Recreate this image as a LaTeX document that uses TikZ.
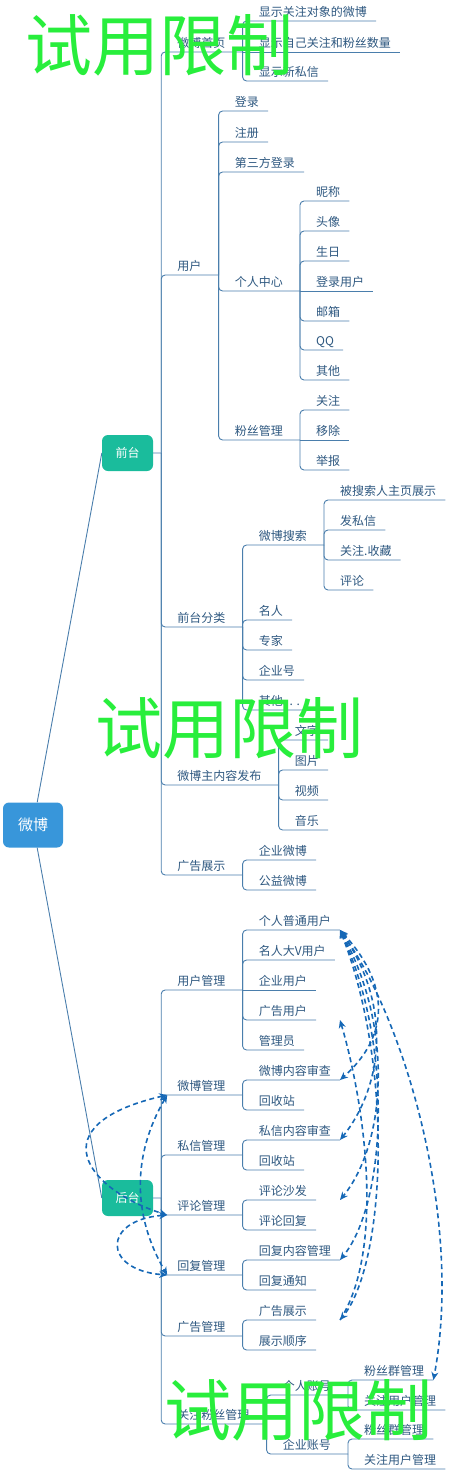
\documentclass[tikz,border=0pt]{standalone}
\usepackage{fontspec}
\newfontfamily\cjk{Noto Sans CJK SC}
\usetikzlibrary{positioning, arrows.meta}
\definecolor{azulraiz}{RGB}{56,150,218}
\definecolor{verdefase}{RGB}{26,188,156}
\definecolor{linea}{RGB}{74,126,172}
\definecolor{texto}{RGB}{46,88,128}
\definecolor{flecha}{RGB}{22,104,182}
\definecolor{verdemarca}{RGB}{40,238,60}
\tikzset{
	>={Stealth[length=8pt, width=7pt, inset=2.5pt]}, % puntas de flecha con muesca
	raiz/.style={fill=azulraiz, text=white, rounded corners=6pt, inner sep=0pt, minimum width=60pt, minimum height=45pt, font=\cjk\fontsize{15}{15}\selectfont}, % nodo central
	fase/.style={fill=verdefase, text=white, rounded corners=6pt, inner sep=0pt, minimum width=51pt, minimum height=36pt, font=\cjk\fontsize{12}{12}\selectfont}, % frente y fondo
	rotulo/.style={anchor=south west, inner xsep=0pt, inner ysep=4.5pt, text height=10pt, text depth=0pt, text=texto, font=\cjk\fontsize{12}{12}\selectfont, execute at begin node={\hspace*{16pt}}}, % texto sobre su linea
	hoja/.style={rotulo, execute at end node={\hspace*{9pt}}}, % nodo sin hijos
	tema/.style={rotulo, execute at end node={\hspace*{17pt}}}, % nodo con hijos
	rama/.style={draw=linea, line width=0.9pt, rounded corners=4pt, to path={|- (\tikztotarget)}}, % codo hacia un hijo
	recta/.style={draw=linea, line width=0.9pt}, % hijo a la misma altura
	relacion/.style={draw=flecha, line width=1.6pt, dash pattern=on 5pt off 3.5pt}, % flechas punteadas
	marca/.style={text=verdemarca, inner sep=0pt, font=\cjk\fontsize{67}{67}\selectfont} % marca de agua
}

\begin{document}
\begin{tikzpicture}[x=1pt, y=-1pt]
	\useasboundingbox (0,0) rectangle (463,1471);
	\node[raiz] (wb) at (33,825) {微博};
	\node[fase] (qt) at (127.5,453) {前台};
	\node[fase] (ht) at (127.5,1198) {后台};
	\coordinate[right=8pt of qt.east] (qtr);
	\coordinate[right=8pt of ht.east] (htr);

	\node[tema] (sy) at (qtr |- 0,52) {微博首页};
	\node[hoja] (sy1) at (sy.south east |- 0,21) {显示关注对象的微博};
	\node[hoja] (sy2) at (sy.south east) {显示自己关注和粉丝数量};
	\node[hoja] (sy3) at (sy.south east |- 0,81) {显示新私信};

	\node[tema] (yh) at (qtr |- 0,275) {用户};
	\node[hoja] (dl) at (yh.south east |- 0,111) {登录};
	\node[hoja] (zc) at (yh.south east |- 0,142) {注册};
	\node[hoja] (dsf) at (yh.south east |- 0,172) {第三方登录};
	\node[tema] (grzx) at (yh.south east |- 0,291) {个人中心};
	\node[tema] (fsgl) at (yh.south east |- 0,440) {粉丝管理};
	\node[hoja] (nc) at (grzx.south east |- 0,201) {昵称};
	\node[hoja] (tx) at (grzx.south east |- 0,231) {头像};
	\node[hoja] (sr) at (grzx.south east |- 0,261) {生日};
	\node[hoja] (dlyh) at (grzx.south east) {登录用户};
	\node[hoja] (yx) at (grzx.south east |- 0,321) {邮箱};
	\node[hoja] (qq) at (grzx.south east |- 0,350) {QQ};
	\node[hoja] (qt1) at (grzx.south east |- 0,380) {其他};
	\node[hoja] (gz) at (fsgl.south east |- 0,410) {关注};
	\node[hoja] (yc) at (fsgl.south east) {移除};
	\node[hoja] (jb) at (fsgl.south east |- 0,470) {举报};

	\node[tema] (qtfl) at (qtr |- 0,627) {前台分类};
	\node[tema] (wbss) at (qtfl.south east |- 0,545) {微博搜索};
	\node[hoja] (mr) at (qtfl.south east |- 0,620) {名人};
	\node[hoja] (zj) at (qtfl.south east |- 0,650) {专家};
	\node[hoja] (qyh) at (qtfl.south east |- 0,680) {企业号};
	\node[hoja] (qt2) at (qtfl.south east |- 0,710) {其他. . .};
	\node[hoja] (bss) at (wbss.south east |- 0,500) {被搜索人主页展示};
	\node[hoja] (fsx) at (wbss.south east |- 0,530) {发私信};
	\node[hoja] (gzsc) at (wbss.south east |- 0,560) {关注.收藏};
	\node[hoja] (pl) at (wbss.south east |- 0,590) {评论};

	\node[tema] (fb) at (qtr |- 0,785) {微博主内容发布};
	\node[hoja] (wz) at (fb.south east |- 0,740) {文字};
	\node[hoja] (tp) at (fb.south east |- 0,770) {图片};
	\node[hoja] (sp) at (fb.south east |- 0,800) {视频};
	\node[hoja] (yy) at (fb.south east |- 0,830) {音乐};

	\node[tema] (ggzs) at (qtr |- 0,875) {广告展示};
	\node[hoja] (qywb) at (ggzs.south east |- 0,860) {企业微博};
	\node[hoja] (gywb) at (ggzs.south east |- 0,890) {公益微博};

	\node[tema] (yhgl) at (htr |- 0,990) {用户管理};
	\node[hoja] (grpt) at (yhgl.south east |- 0,930) {个人普通用户};
	\node[hoja] (mrdv) at (yhgl.south east |- 0,960) {名人大V用户};
	\node[hoja] (qyyh) at (yhgl.south east) {企业用户};
	\node[hoja] (ggyh) at (yhgl.south east |- 0,1020) {广告用户};
	\node[hoja] (gly) at (yhgl.south east |- 0,1050) {管理员};
	\node[tema] (wbgl) at (htr |- 0,1095) {微博管理};
	\node[hoja] (wbsc) at (wbgl.south east |- 0,1080) {微博内容审查};
	\node[hoja] (hsz1) at (wbgl.south east |- 0,1110) {回收站};
	\node[tema] (sxgl) at (htr |- 0,1155) {私信管理};
	\node[hoja] (sxsc) at (sxgl.south east |- 0,1140) {私信内容审查};
	\node[hoja] (hsz2) at (sxgl.south east |- 0,1170) {回收站};
	\node[tema] (plgl) at (htr |- 0,1215) {评论管理};
	\node[hoja] (plsf) at (plgl.south east |- 0,1200) {评论沙发};
	\node[hoja] (plhf) at (plgl.south east |- 0,1230) {评论回复};
	\node[tema] (hfgl) at (htr |- 0,1275) {回复管理};
	\node[hoja] (hfnr) at (hfgl.south east |- 0,1260) {回复内容管理};
	\node[hoja] (hftz) at (hfgl.south east |- 0,1290) {回复通知};
	\node[tema] (gggl) at (htr |- 0,1336) {广告管理};
	\node[hoja] (ggzs2) at (gggl.south east |- 0,1320) {广告展示};
	\node[hoja] (zssx) at (gggl.south east |- 0,1350) {展示顺序};
	\node[tema] (gzfs) at (htr |- 0,1424) {关注粉丝管理};
	\node[tema] (grzh) at (gzfs.south east |- 0,1395) {个人账号};
	\node[tema] (qyzh) at (gzfs.south east |- 0,1454) {企业账号};
	\node[hoja] (fsq1) at (grzh.south east |- 0,1380) {粉丝群管理};
	\node[hoja] (gzyh1) at (grzh.south east |- 0,1410) {关注用户管理};
	\node[hoja] (fsq2) at (qyzh.south east |- 0,1439) {粉丝群管理};
	\node[hoja] (gzyh2) at (qyzh.south east |- 0,1469) {关注用户管理};

	\draw[recta] (wb) -- (qt.west) (wb) -- (ht.west) (qt.east) -- (qtr) (ht.east) -- (htr);
	\draw	(qtr) edge[rama] (sy.south east) (qtr) edge[rama] (yh.south east)
			(qtr) edge[rama] (qtfl.south east) (qtr) edge[rama] (fb.south east)
			(qtr) edge[rama] (ggzs.south east)
			(sy.south east) edge[rama] (sy1.south east) (sy.south east) edge[recta] (sy2.south east)
			(sy.south east) edge[rama] (sy3.south east)
			(yh.south east) edge[rama] (dl.south east) (yh.south east) edge[rama] (zc.south east)
			(yh.south east) edge[rama] (dsf.south east) (yh.south east) edge[rama] (grzx.south east)
			(yh.south east) edge[rama] (fsgl.south east)
			(grzx.south east) edge[rama] (nc.south east) (grzx.south east) edge[rama] (tx.south east)
			(grzx.south east) edge[rama] (sr.south east) (grzx.south east) edge[recta] (dlyh.south east)
			(grzx.south east) edge[rama] (yx.south east) (grzx.south east) edge[rama] (qq.south east)
			(grzx.south east) edge[rama] (qt1.south east)
			(fsgl.south east) edge[rama] (gz.south east) (fsgl.south east) edge[recta] (yc.south east)
			(fsgl.south east) edge[rama] (jb.south east)
			(qtfl.south east) edge[rama] (wbss.south east) (qtfl.south east) edge[rama] (mr.south east)
			(qtfl.south east) edge[rama] (zj.south east) (qtfl.south east) edge[rama] (qyh.south east)
			(qtfl.south east) edge[rama] (qt2.south east)
			(wbss.south east) edge[rama] (bss.south east) (wbss.south east) edge[rama] (fsx.south east)
			(wbss.south east) edge[rama] (gzsc.south east) (wbss.south east) edge[rama] (pl.south east)
			(fb.south east) edge[rama] (wz.south east) (fb.south east) edge[rama] (tp.south east)
			(fb.south east) edge[rama] (sp.south east) (fb.south east) edge[rama] (yy.south east)
			(ggzs.south east) edge[rama] (qywb.south east) (ggzs.south east) edge[rama] (gywb.south east);
	\draw	(htr) edge[rama] (yhgl.south east) (htr) edge[rama] (wbgl.south east)
			(htr) edge[rama] (sxgl.south east) (htr) edge[rama] (plgl.south east)
			(htr) edge[rama] (hfgl.south east) (htr) edge[rama] (gggl.south east)
			(htr) edge[rama] (gzfs.south east)
			(yhgl.south east) edge[rama] (grpt.south east) (yhgl.south east) edge[rama] (mrdv.south east)
			(yhgl.south east) edge[recta] (qyyh.south east) (yhgl.south east) edge[rama] (ggyh.south east)
			(yhgl.south east) edge[rama] (gly.south east)
			(wbgl.south east) edge[rama] (wbsc.south east) (wbgl.south east) edge[rama] (hsz1.south east)
			(sxgl.south east) edge[rama] (sxsc.south east) (sxgl.south east) edge[rama] (hsz2.south east)
			(plgl.south east) edge[rama] (plsf.south east) (plgl.south east) edge[rama] (plhf.south east)
			(hfgl.south east) edge[rama] (hfnr.south east) (hfgl.south east) edge[rama] (hftz.south east)
			(gggl.south east) edge[rama] (ggzs2.south east) (gggl.south east) edge[rama] (zssx.south east)
			(gzfs.south east) edge[rama] (grzh.south east) (gzfs.south east) edge[rama] (qyzh.south east)
			(grzh.south east) edge[rama] (fsq1.south east) (grzh.south east) edge[rama] (gzyh1.south east)
			(qyzh.south east) edge[rama] (fsq2.south east) (qyzh.south east) edge[rama] (gzyh2.south east);

	\draw[relacion, <->] (grpt.south east) .. controls +(55,60) and +(45,-40) .. (wbsc.south -| grpt.south east);
	\draw[relacion, <->] (grpt.south east) .. controls +(55,80) and +(40,-50) .. (sxsc.south -| grpt.south east);
	\draw[relacion, <->] (grpt.south east) .. controls +(55,100) and +(45,-55) .. (plsf.south -| grpt.south east);
	\draw[relacion, <->] (grpt.south east) .. controls +(55,120) and +(45,-55) .. (hfnr.south -| grpt.south east);
	\draw[relacion, <->] (grpt.south east) .. controls +(55,140) and +(45,-55) .. (ggzs2.south -| grpt.south east);
	\draw[relacion, <->] (grpt.south east) .. controls +(65,90) and +(30,-160) .. (fsq1.south east);
	\draw[relacion, ->] (ggzs2.south -| grpt.south east) .. controls +(45,-70) and +(25,85) .. (ggyh.south -| grpt.south east);
	\draw[relacion, <->] ([xshift=6pt]wbgl.south west) .. controls +(-130,30) and +(-80,-25) .. ([xshift=6pt]plgl.south west);
	\draw[relacion, <->] ([xshift=6pt]plgl.south west) .. controls +(-65,5) and +(-65,-5) .. ([xshift=6pt]hfgl.south west);
	\draw[relacion, <->] ([xshift=6pt]wbgl.south west) .. controls +(-35,60) and +(-35,-60) .. ([xshift=6pt]hfgl.south west);

	\node[marca] (m1) at (159,45) {试用限制};
	\node[marca] (m2) at (229,728) {试用限制};
	\node[marca] (m3) at (298,1410) {试用限制};
\end{tikzpicture}
\end{document}
